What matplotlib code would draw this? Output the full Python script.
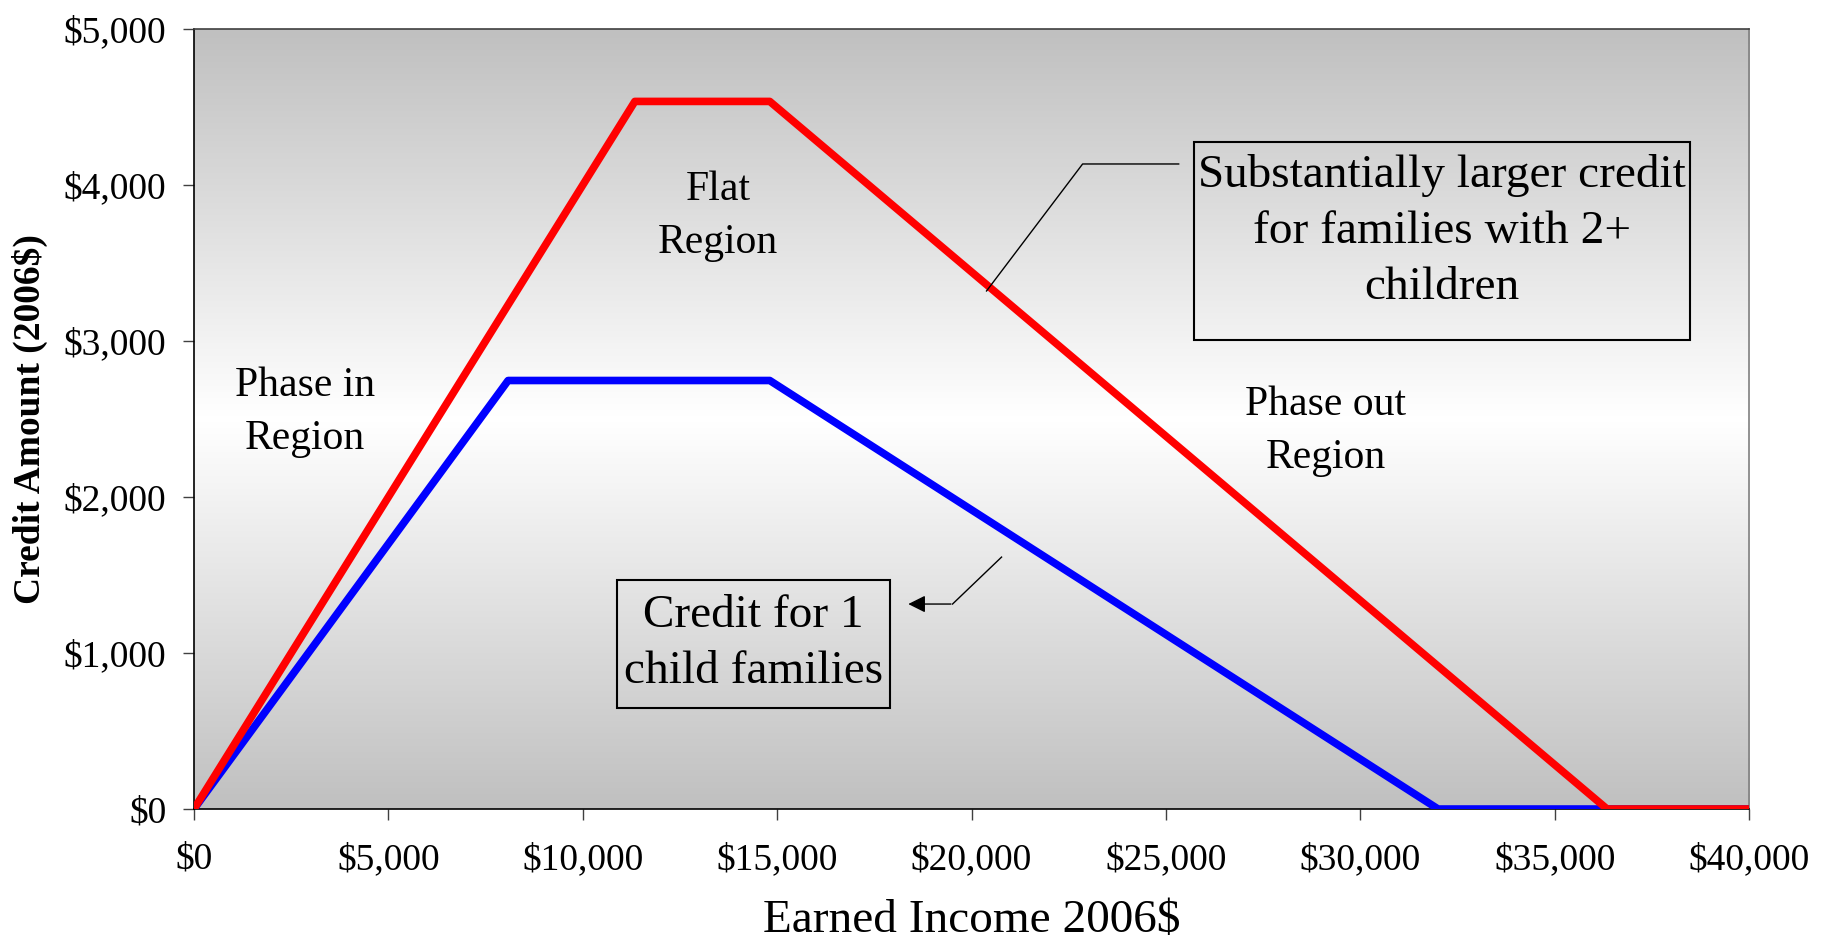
import numpy as np
import matplotlib.pyplot as plt
from matplotlib.colors import LinearSegmentedColormap
from matplotlib.patches import Rectangle
from matplotlib.ticker import FuncFormatter

# EITC schedule, 2006 dollars
income_one = [0, 8080, 14810, 32001, 40000]
credit_one = [0, 2747, 2747, 0, 0]
income_two = [0, 11340, 14810, 36348, 40000]
credit_two = [0, 4536, 4536, 0, 0]

x_ticks = [0, 5000, 10000, 15000, 20000, 25000, 30000, 35000, 40000]
y_ticks = [0, 1000, 2000, 3000, 4000, 5000]

plt.rcParams['font.family'] = 'Liberation Serif'

fig = plt.figure(figsize=(18.25, 9.46), dpi=100)
ax = fig.add_axes([0.1063, 0.1448, 0.8521, 0.8245])

# gray -> white -> gray background
grad = np.abs(np.linspace(-1, 1, 256))[:, None]
cmap = LinearSegmentedColormap.from_list('bg', ['#ffffff', '#c0c0c0'])
ax.imshow(grad, extent=[0, 40000, 0, 5000], aspect='auto', cmap=cmap,
          origin='lower', zorder=0, interpolation='bilinear')

ax.plot(income_one, credit_one, color='#0000ff', lw=5.5, solid_joinstyle='round', zorder=3)
ax.plot(income_two, credit_two, color='#ff0000', lw=5.5, solid_joinstyle='round', zorder=4)

ax.set_xlim(0, 40000)
ax.set_ylim(0, 5000)
ax.set_xticks(x_ticks)
ax.set_yticks(y_ticks)
fmt = FuncFormatter(lambda v, p: '${:,.0f}'.format(v))
ax.xaxis.set_major_formatter(fmt)
ax.yaxis.set_major_formatter(fmt)
ax.tick_params(axis='both', direction='out', length=8, width=1, labelsize=27, color='#404040')
ax.tick_params(axis='x', pad=16)
ax.tick_params(axis='y', pad=12)

ax.spines['left'].set_color('black')
ax.spines['bottom'].set_color('black')
ax.spines['top'].set_color('#404040')
ax.spines['right'].set_color('#808080')
for s in ax.spines.values():
    s.set_linewidth(1.2)

ax.set_xlabel('Earned Income 2006$', fontsize=34, labelpad=16)
ax.set_ylabel('Credit Amount (2006$)', fontsize=27, fontweight='bold', labelpad=11)

# region labels
ax.text(2857, 2545, 'Phase in\nRegion', fontsize=30, ha='center', va='center', linespacing=1.5, zorder=5)
ax.text(13488, 3798, 'Flat\nRegion', fontsize=30, ha='center', va='center', linespacing=1.5, zorder=5)
ax.text(29112, 2423, 'Phase out\nRegion', fontsize=30, ha='center', va='center', linespacing=1.5, zorder=5)

# box for 2+ children
ax.add_patch(Rectangle((25714, 3006), 38481 - 25714, 4276 - 3006, fill=False,
                       edgecolor='black', lw=1.5, zorder=5))
ax.text(32098, 3700, 'Substantially larger credit\nfor families with 2+\nchildren',
        fontsize=34, ha='center', va='center', linespacing=1.42, zorder=5)
ax.plot([25328, 22857, 20386], [4135, 4135, 3321], color='black', lw=1, zorder=5)

# box for 1 child
ax.add_patch(Rectangle((10888, 647), 17890 - 10888, 1468 - 647, fill=False,
                       edgecolor='black', lw=1.5, zorder=5))
ax.text(14389, 1060, 'Credit for 1\nchild families', fontsize=34, ha='center', va='center',
        linespacing=1.42, zorder=5)
ax.plot([20772, 19511], [1615, 1314], color='black', lw=1, zorder=5)
ax.annotate('', xy=(18301, 1314), xytext=(19540, 1314),
            arrowprops=dict(arrowstyle='-|>', color='black', lw=1, mutation_scale=26), zorder=5)

fig.savefig('out.png', dpi=100)
